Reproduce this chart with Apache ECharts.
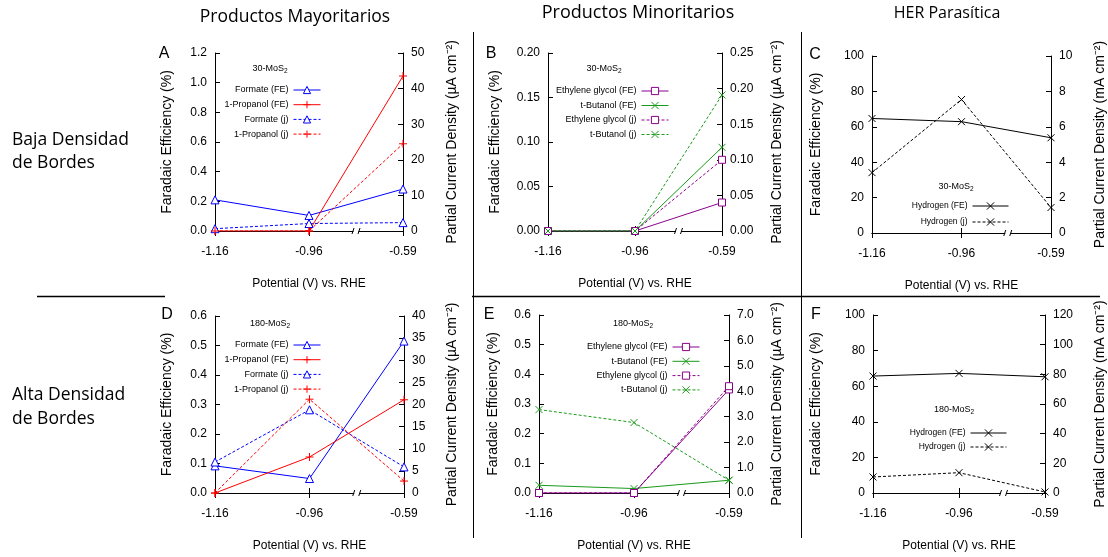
<!DOCTYPE html>
<html>
<head>
<meta charset="utf-8">
<script src="https://cdn.jsdelivr.net/npm/echarts@6/dist/echarts.min.js"></script>
<style>
  html, body { margin: 0; padding: 0; background: #fff; }
  #box { width: 1108px; height: 557px; }
</style>
</head>
<body>
<div id="box"></div>
<script>
/* Faradaic efficiency / partial current density, 6 paneles */
var potentials = ['-1.16', '-0.96', '-0.59'];

// A: 30-MoS2, productos mayoritarios
var aFormateFE = [0.21, 0.105, 0.283];
var aPropanolFE = [0, 0, 1.045];
var aFormateJ = [0.65, 2.1, 2.35];
var aPropanolJ = [0, 0, 24.5];
// B: 30-MoS2, productos minoritarios
var bGlycolFE = [0, 0, 0.032];
var bButanolFE = [0, 0, 0.094];
var bGlycolJ = [0, 0, 0.1];
var bButanolJ = [0, 0, 0.191];
// C: 30-MoS2, hidrogeno
var cHydrogenFE = [64.7, 62.9, 53.8];
var cHydrogenJ = [3.41, 7.54, 1.44];
// D: 180-MoS2, productos mayoritarios
var dFormateFE = [0.092, 0.049, 0.515];
var dPropanolFE = [0, 0.122, 0.316];
var dFormateJ = [7.0, 18.8, 5.9];
var dPropanolJ = [0, 21.2, 2.7];
// E: 180-MoS2, productos minoritarios
var eGlycolFE = [0, 0, 0.349];
var eButanolFE = [0.026, 0.015, 0.043];
var eGlycolJ = [0, 0, 4.2];
var eButanolJ = [3.28, 2.77, 0.5];
// F: 180-MoS2, hidrogeno
var fHydrogenFE = [65.7, 67.2, 65.3];
var fHydrogenJ = [10.8, 13.7, 0.7];

var dom = document.getElementById('box');
var myChart = echarts.init(dom, null, { renderer: 'canvas' });

var FONT = 'Liberation Sans';
var BLUE = '#0000ff', RED = '#ff0000', PURPLE = '#8b008b', GREEN = '#1a9a1a', BLACK = '#000';
var PLUS = 'path://M0,5L10,5M5,0L5,10';
var CROSS = 'path://M0,0L10,10M10,0L0,10';
var DOT = [3, 2];

var grids = [
  { left: 215, top: 53, width: 188, height: 178 },
  { left: 548, top: 53, width: 174, height: 178 },
  { left: 872, top: 56, width: 181, height: 177 },
  { left: 215, top: 316, width: 189, height: 177 },
  { left: 539, top: 315, width: 190, height: 178 },
  { left: 873, top: 315, width: 174, height: 178 }
];

function fmt(d) { return function (v) { return v.toFixed(d); }; }

function yAx(g, pos, max, step, dec, name, gap) {
  return {
    type: 'value', gridIndex: g, position: pos, min: 0, max: max, interval: step,
    name: name, nameLocation: 'middle', nameGap: gap,
    nameTextStyle: { fontFamily: FONT, fontSize: 14, color: '#000' },
    axisLine: { show: true, lineStyle: { color: '#000', width: 1 } },
    axisTick: { show: true, inside: true, length: 5, lineStyle: { color: '#000' } },
    axisLabel: { fontFamily: FONT, fontSize: 12, color: '#000', margin: 8, formatter: fmt(dec) },
    splitLine: { show: false }
  };
}

function xAx(g, pos) {
  var top = pos === 'top';
  return {
    type: 'category', gridIndex: g, position: pos, data: potentials, boundaryGap: false,
    name: top ? '' : 'Potential (V) vs. RHE', nameLocation: 'middle', nameGap: 47,
    nameTextStyle: { fontFamily: FONT, fontSize: 12, color: '#000' },
    axisLine: { show: true, lineStyle: { color: '#000', width: 1 } },
    axisTick: { show: true, inside: true, length: 5, lineStyle: { color: '#000' } },
    axisLabel: { show: !top, fontFamily: FONT, fontSize: 12, color: '#000', margin: 15 },
    splitLine: { show: false }
  };
}

var uA = 'Partial Current Density (\u00b5A cm\u207b\u00b2)';
var mA = 'Partial Current Density (mA cm\u207b\u00b2)';
var fe = 'Faradaic Efficiency (%)';

var yAxes = [
  yAx(0, 'left', 1.2, 0.2, 1, fe, 41), yAx(0, 'right', 50, 10, 0, uA, 42),
  yAx(1, 'left', 0.2, 0.05, 2, fe, 46), yAx(1, 'right', 0.25, 0.05, 2, uA, 48),
  yAx(2, 'left', 100, 20, 0, fe, 49), yAx(2, 'right', 10, 2, 0, mA, 42),
  yAx(3, 'left', 0.6, 0.1, 1, fe, 41), yAx(3, 'right', 40, 5, 0, uA, 41),
  yAx(4, 'left', 0.6, 0.1, 1, fe, 39), yAx(4, 'right', 7, 1, 1, uA, 41),
  yAx(5, 'left', 100, 20, 0, fe, 50), yAx(5, 'right', 120, 20, 0, mA, 48)
];

var xAxes = [];
for (var i = 0; i < 6; i++) { xAxes.push(xAx(i, 'bottom')); xAxes.push(xAx(i, 'top')); }

// hollow: white fill with coloured 1px outline
function ser(name, g, side, data, color, symbol, dashed, size, hollow) {
  return {
    name: name, type: 'line', xAxisIndex: 2 * g, yAxisIndex: 2 * g + side, data: data,
    symbol: symbol, symbolSize: size || 8, showAllSymbol: true,
    lineStyle: { color: color, width: 1, type: dashed ? DOT : 'solid' },
    itemStyle: { color: hollow ? '#fff' : color, borderColor: color, borderWidth: 1 },
    emphasis: { disabled: true }, animation: false, z: 3
  };
}

var series = [
  ser('Formate (FE)', 0, 0, aFormateFE, BLUE, 'triangle', false, 8, true),
  ser('1-Propanol (FE)', 0, 0, aPropanolFE, RED, PLUS),
  ser('Formate (j)', 0, 1, aFormateJ, BLUE, 'triangle', true, 8, true),
  ser('1-Propanol (j)', 0, 1, aPropanolJ, RED, PLUS, true),

  ser('Ethylene glycol (FE)', 1, 0, bGlycolFE, PURPLE, 'rect', false, 7, true),
  ser('t-Butanol (FE)', 1, 0, bButanolFE, GREEN, CROSS, false, 7),
  ser('Ethylene glycol (j)', 1, 1, bGlycolJ, PURPLE, 'rect', true, 7, true),
  ser('t-Butanol (j)', 1, 1, bButanolJ, GREEN, CROSS, true, 7),

  ser('Hydrogen (FE)', 2, 0, cHydrogenFE, BLACK, CROSS, false, 7),
  ser('Hydrogen (j)', 2, 1, cHydrogenJ, BLACK, CROSS, true, 7),

  ser('Formate (FE)', 3, 0, dFormateFE, BLUE, 'triangle', false, 8, true),
  ser('1-Propanol (FE)', 3, 0, dPropanolFE, RED, PLUS),
  ser('Formate (j)', 3, 1, dFormateJ, BLUE, 'triangle', true, 8, true),
  ser('1-Propanol (j)', 3, 1, dPropanolJ, RED, PLUS, true),

  ser('Ethylene glycol (FE)', 4, 0, eGlycolFE, PURPLE, 'rect', false, 7, true),
  ser('t-Butanol (FE)', 4, 0, eButanolFE, GREEN, CROSS, false, 7),
  ser('Ethylene glycol (j)', 4, 1, eGlycolJ, PURPLE, 'rect', true, 7, true),
  ser('t-Butanol (j)', 4, 1, eButanolJ, GREEN, CROSS, true, 7),

  ser('Hydrogen (FE)', 5, 0, fHydrogenFE, BLACK, CROSS, false, 7),
  ser('Hydrogen (j)', 5, 1, fHydrogenJ, BLACK, CROSS, true, 7)
];

function leg(names, right, top, gap, w, fs) {
  return {
    data: names, orient: 'vertical', align: 'right', right: right, top: top,
    itemWidth: w, itemHeight: 9, itemGap: gap, selectedMode: false, padding: 0,
    lineStyle: { width: 1 }, itemStyle: { borderWidth: 1 },
    textStyle: { fontFamily: FONT, fontSize: fs, color: '#000' }
  };
}
var majNames = ['Formate (FE)', '1-Propanol (FE)', 'Formate (j)', '1-Propanol (j)'];
var minNames = ['Ethylene glycol (FE)', 't-Butanol (FE)', 'Ethylene glycol (j)', 't-Butanol (j)'];
var herNames = ['Hydrogen (FE)', 'Hydrogen (j)'];

var legends = [
  leg(majNames, 787, 85.5, 5.7, 27, 9),
  leg(minNames, 439, 86.5, 5.5, 27, 9),
  leg(herNames, 99, 201.5, 7, 36, 8.5),
  leg(majNames, 787, 340.5, 5.7, 27, 9),
  leg(minNames, 408, 342.5, 5.3, 27, 9),
  leg(herNames, 101, 428.5, 5, 36, 8.5)
];

function txt(x, y, s, size, family, align) {
  return { type: 'text', x: x, y: y, silent: true,
    style: { text: s, fontSize: size, fontFamily: family || FONT, fill: '#000', align: align || 'center', verticalAlign: 'middle' } };
}
function sample(x, y, s) {
  return { type: 'text', x: x, y: y, silent: true,
    style: { text: '{a|' + s + '}{b|2}', fontFamily: FONT, fill: '#000', align: 'center', verticalAlign: 'middle',
      rich: { a: { fontSize: 9, fontFamily: FONT, lineHeight: 12 }, b: { fontSize: 6.5, fontFamily: FONT, verticalAlign: 'bottom', lineHeight: 8, padding: [4, 0, 0, 0] } } } };
}
function ln(x1, y1, x2, y2, w) {
  return { type: 'line', silent: true, shape: { x1: x1, y1: y1, x2: x2, y2: y2 }, style: { stroke: '#000', lineWidth: w || 1 } };
}

var graphics = [
  txt(295, 17, 'Productos Mayoritarios', 17.5, 'Open Sans'),
  txt(638, 13, 'Productos Minoritarios', 18, 'Open Sans'),
  txt(947, 13, 'HER Parasítica', 16, 'Open Sans'),
  txt(12, 140, 'Baja Densidad', 17.5, 'Open Sans', 'left'),
  txt(12, 163, 'de Bordes', 17.5, 'Open Sans', 'left'),
  txt(12, 395, 'Alta Densidad', 17.5, 'Open Sans', 'left'),
  txt(12, 419, 'de Bordes', 17.5, 'Open Sans', 'left'),
  txt(164, 54, 'A', 16), txt(491, 54, 'B', 16), txt(815, 55, 'C', 16),
  txt(167, 315, 'D', 16), txt(489, 315, 'E', 16), txt(816, 315, 'F', 16),
  sample(270, 69, '30-MoS'), sample(604, 69, '30-MoS'), sample(956, 187, '30-MoS'),
  sample(270, 324, '180-MoS'), sample(633, 324, '180-MoS'), sample(954, 410, '180-MoS'),
  ln(37, 296.5, 165, 296.5, 1.5), ln(472, 296.5, 1100, 296.5, 1.5),
  ln(473.5, 32, 473.5, 538, 1), ln(801.5, 32, 801.5, 538, 1)
];

// marcas de corte del eje x entre -0.96 y -0.59
grids.forEach(function (g) {
  var x = g.left + g.width * 0.75, y = g.top + g.height;
  graphics.push({ type: 'rect', silent: true, z: 10, shape: { x: x - 2.5, y: y - 2, width: 5, height: 4 }, style: { fill: '#fff' } });
  graphics.push({ type: 'line', silent: true, z: 11, shape: { x1: x - 4, y1: y + 3, x2: x - 2, y2: y - 3 }, style: { stroke: '#000', lineWidth: 1 } });
  graphics.push({ type: 'line', silent: true, z: 11, shape: { x1: x + 2, y1: y + 3, x2: x + 4, y2: y - 3 }, style: { stroke: '#000', lineWidth: 1 } });
});

var option = {
  backgroundColor: '#fff',
  animation: false,
  grid: grids,
  xAxis: xAxes,
  yAxis: yAxes,
  legend: legends,
  series: series,
  graphic: graphics
};

if (option && typeof option === 'object') {
  myChart.setOption(option, true);
}
</script>
</body>
</html>
